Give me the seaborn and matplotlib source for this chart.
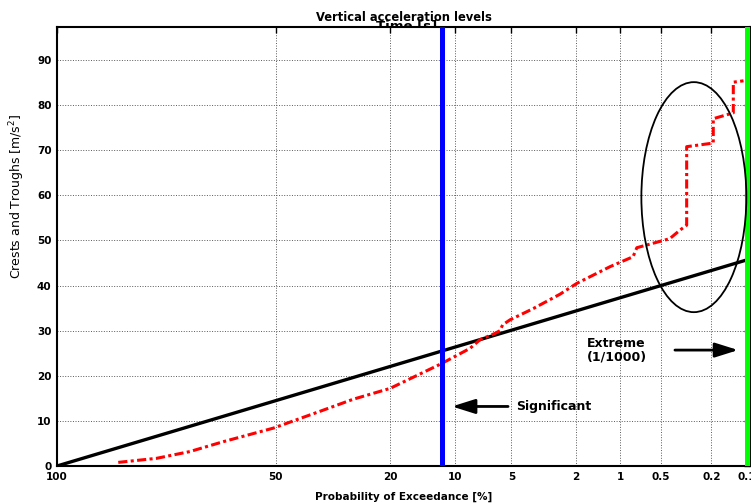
"""
Vertical acceleration levels - crests/troughs on Rayleigh paper
"""

import numpy as np
import pandas as pd
import matplotlib
matplotlib.use("Agg")
import matplotlib.pyplot as plt
from matplotlib.patches import Ellipse
import seaborn as sns

# measured crests and troughs (probability of exceedance in %, level in m/s^2)
exceed_prob = [94.7, 86.6, 77.4, 66.9, 50.7, 35.7, 28.0, 20.0, 11.7, 8.4, 7.45, 6.18,
               5.80, 5.60, 5.09, 3.72, 2.54, 1.98, 1.18, 0.81, 0.76, 0.43, 0.358, 0.317,
               0.317, 0.193, 0.193, 0.131, 0.131, 0.107]
levels = [0.8, 1.7, 3.2, 5.4, 8.4, 12.4, 14.8, 17.2, 22.7, 26.1, 28.0, 29.4,
          30.0, 31.3, 32.4, 34.9, 38.1, 40.5, 44.2, 46.4, 48.4, 50.4, 52.3, 53.4,
          70.8, 71.6, 77.0, 78.3, 85.1, 85.4]

# rayleigh fit line
fit_prob = [100, 0.1]
fit_level = [0, 45.7]

# reference levels
significant_prob = 11.6
extreme_prob = 0.1

prob_ticks = [100, 50, 20, 10, 5, 2, 1, 0.5, 0.2, 0.1]
prob_labels = ["100", "50", "20", "10", "5", "2", "1", "0.5", "0.2", "0.1"]
level_ticks = [0, 10, 20, 30, 40, 50, 60, 70, 80, 90]


def rayleigh(p):
    with np.errstate(divide="ignore", invalid="ignore"):
        L = -np.log(np.clip(np.asarray(p, dtype=float), 1e-12, None) / 100.0)
    return np.sign(L) * np.sqrt(np.abs(L))


def rayleigh_inv(x):
    x = np.asarray(x, dtype=float)
    return 100.0 * np.exp(-np.sign(x) * x ** 2)


measured = pd.DataFrame({"prob": exceed_prob, "level": levels})
fit = pd.DataFrame({"prob": fit_prob, "level": fit_level})

sns.set_style("white")
plt.rcParams["font.family"] = ["DejaVu Sans"]
plt.rcParams.update({"text.color": "black", "axes.labelcolor": "black",
                     "xtick.color": "black", "ytick.color": "black"})

fig = plt.figure(figsize=(7.51, 5.03), dpi=100)
ax = fig.add_axes([57 / 751, 37 / 503, 693 / 751, 439.3 / 503])
ax.set_xscale("function", functions=(rayleigh, rayleigh_inv))

sns.lineplot(data=fit, x="prob", y="level", color="black", lw=2.4,
             sort=False, estimator=None, ax=ax, zorder=3)
sns.lineplot(data=measured, x="prob", y="level", color="#ff0000", lw=2.2,
             sort=False, estimator=None, ax=ax, zorder=4)
ax.lines[-1].set_dashes((3, 1.1, 1, 1.1))

ax.axvline(significant_prob, color="#0000ff", lw=3.6, zorder=5)
ax.axvline(extreme_prob, color="#00ff00", lw=3.6, zorder=5)

# ellipse around the extreme crests
ax.add_patch(Ellipse((0.919, 0.612), 0.1515, 0.5236, transform=ax.transAxes,
                     fill=False, ec="black", lw=1.3, zorder=6))

arrow = dict(arrowstyle="-|>,head_length=0.7,head_width=0.22", color="black",
             lw=2, mutation_scale=20, shrinkA=0, shrinkB=0)
ax.annotate("", xy=(10.4, 13.2), xytext=(5.22, 13.2), arrowprops=arrow)
ax.text(4.72, 13.2, "Significant", fontsize=9, fontweight="bold", va="center", ha="left")
ax.annotate("", xy=(0.119, 25.7), xytext=(0.392, 25.7), arrowprops=arrow)
ax.text(1.70, 25.7, "Extreme\n(1/1000)", fontsize=9, fontweight="bold",
        va="center", ha="left", linespacing=1.05)

ax.set_xlim(0.094, 100)
ax.set_ylim(0, 97.4)
ax.set_xticks(prob_ticks)
ax.set_xticklabels(prob_labels)
ax.xaxis.set_minor_locator(matplotlib.ticker.NullLocator())
ax.set_yticks(level_ticks)
ax.tick_params(direction="in", top=True, right=True, length=4, width=1,
               labelsize=7.5, pad=4)
for lab in ax.get_xticklabels() + ax.get_yticklabels():
    lab.set_fontweight("bold")

ax.grid(True, color="0.35", linestyle=":", lw=0.7)
for s in ax.spines.values():
    s.set_color("black")
    s.set_linewidth(1.5)

ax.set_title("Vertical acceleration levels", fontsize=8.3, fontweight="bold", pad=4.1)
fig.text(406.5 / 751, 0.941, "Time [s]", fontsize=9.5, fontweight="bold",
         ha="center", va="baseline", zorder=-1)

ax.set_xlabel("Probability of Exceedance [%]", fontsize=7.5, fontweight="bold")
ax.xaxis.set_label_coords(0.5, -0.0706)
ax.xaxis.label.set_va("center")
ax.set_ylabel("Crests and Troughs [m/s$^2$]", fontsize=9)
ax.yaxis.set_label_coords(-0.0577, 0.613)
ax.yaxis.label.set_va("center")

fig.savefig("out.png", dpi=100, facecolor="white")
